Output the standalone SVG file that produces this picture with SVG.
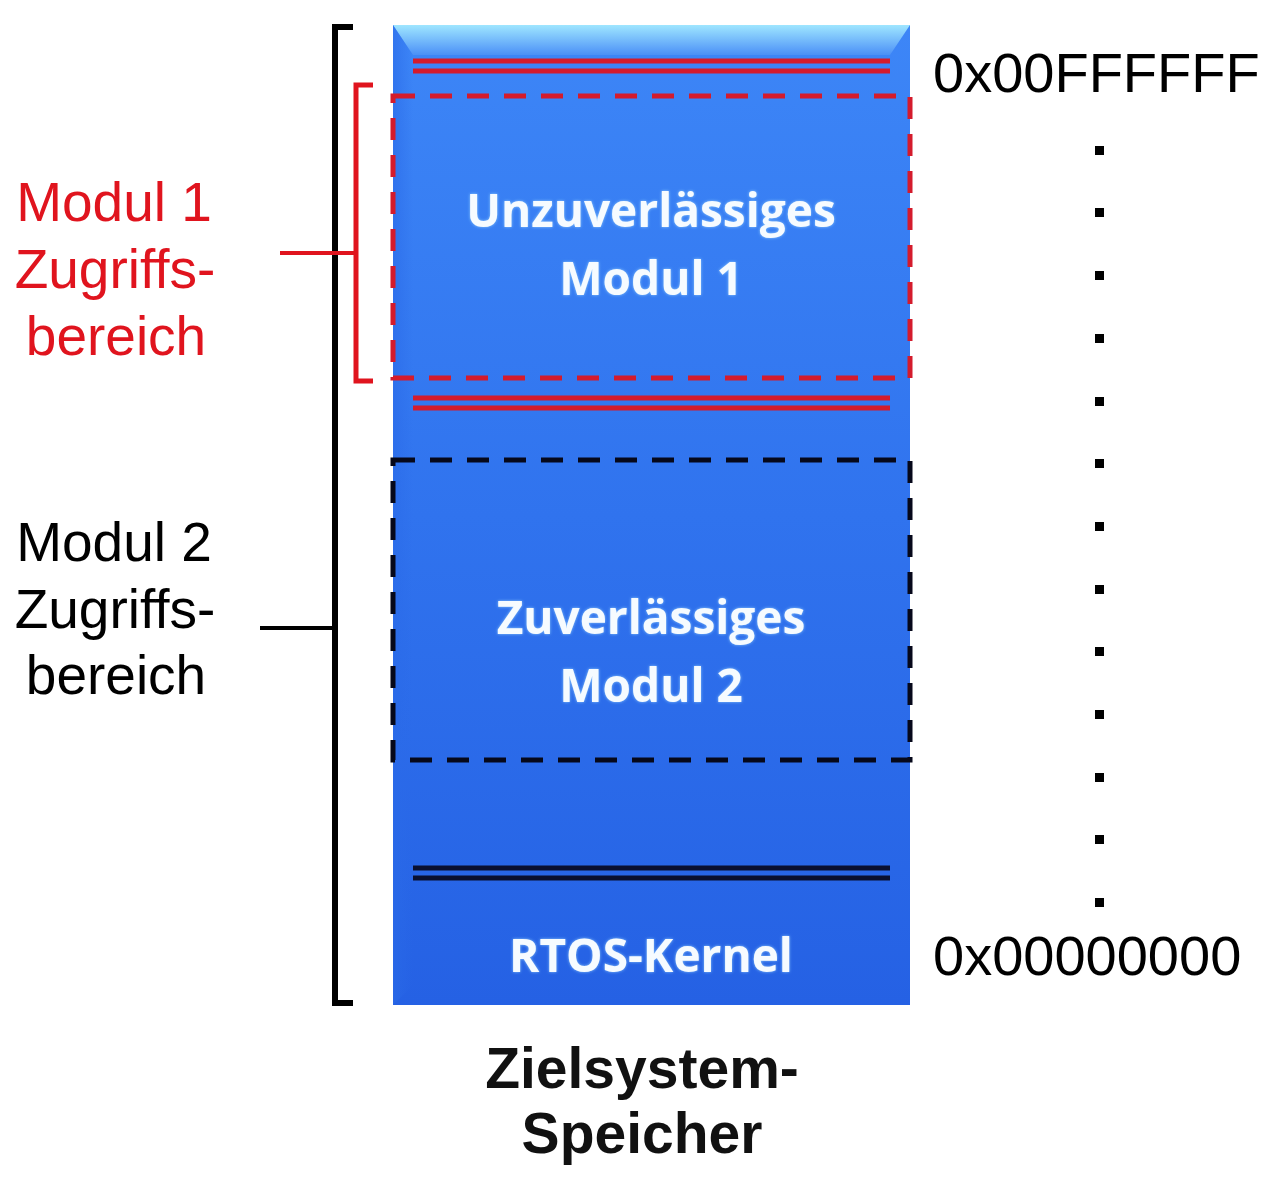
<svg xmlns="http://www.w3.org/2000/svg" width="1280" height="1190" viewBox="0 0 1280 1190">
<defs>
<linearGradient id="body" x1="0" y1="0" x2="0" y2="1">
<stop offset="0" stop-color="#3d86f7"/>
<stop offset="0.5" stop-color="#3073ee"/>
<stop offset="1" stop-color="#2561e4"/>
</linearGradient>
<linearGradient id="bevel" x1="0" y1="0" x2="0" y2="1">
<stop offset="0" stop-color="#9fe6ff"/>
<stop offset="1" stop-color="#4b90f7"/>
</linearGradient>
<linearGradient id="side" x1="0" y1="0" x2="1" y2="0">
<stop offset="0" stop-color="#2a6ae8" stop-opacity="0.6"/>
<stop offset="1" stop-color="#2a6ae8" stop-opacity="0"/>
</linearGradient>
<filter id="glow" x="-10%" y="-30%" width="120%" height="160%">
<feGaussianBlur in="SourceAlpha" stdDeviation="1.5" result="b"/>
<feFlood flood-color="#9fdcff" flood-opacity="0.8"/>
<feComposite in2="b" operator="in" result="g"/>
<feMerge><feMergeNode in="g"/><feMergeNode in="SourceGraphic"/></feMerge>
</filter>
</defs>
<style>
.in{font-family:"Open Sans","Lato",sans-serif;font-weight:bold;font-size:46px;fill:#f6fbff;text-anchor:middle}
.lbl{font-family:"Liberation Sans",Arial,sans-serif;font-size:55px;text-anchor:middle}
.addr{font-family:"Liberation Sans",Arial,sans-serif;font-size:56px;fill:#000}
.cap{font-family:"Liberation Sans",Arial,sans-serif;font-weight:bold;font-size:57px;fill:#111;text-anchor:middle}
.rl{stroke:#d41b2c;stroke-width:5;fill:none}
.bl{stroke:#0a1030;stroke-width:5;fill:none}
.rdash{stroke:#d41b2c;stroke-width:5;fill:none;stroke-dasharray:22 15}
.bdash{stroke:#06081a;stroke-width:5;fill:none;stroke-dasharray:22 15}
.dot{fill:#000}
</style>
<g id="memory">
<rect x="393" y="25" width="517" height="980" fill="url(#body)"/>
<polygon points="393,25 910,25 890,55 413,55" fill="url(#bevel)"/>
<polygon points="393,25 413,55 413,985 393,1005" fill="url(#side)"/>
</g>
<g id="module1-lines">
<line class="rl" x1="413" y1="61" x2="890" y2="61"/>
<line class="rl" x1="413" y1="71" x2="890" y2="71"/>
<line class="rl" x1="413" y1="398" x2="890" y2="398"/>
<line class="rl" x1="413" y1="408" x2="890" y2="408"/>
</g>
<g id="module1">
<rect class="rdash" x="393" y="96" width="517" height="282"/>
<text class="in" x="651" y="227" filter="url(#glow)">Unzuverlässiges</text>
<text class="in" x="651" y="295" filter="url(#glow)">Modul 1</text>
</g>
<g id="module2">
<rect class="bdash" x="393" y="460" width="517" height="300"/>
<text class="in" x="651" y="634" filter="url(#glow)">Zuverlässiges</text>
<text class="in" x="651" y="702" filter="url(#glow)">Modul 2</text>
</g>
<g id="kernel">
<line class="bl" x1="413" y1="868" x2="890" y2="868"/>
<line class="bl" x1="413" y1="878" x2="890" y2="878"/>
<text class="in" x="651" y="972" filter="url(#glow)">RTOS-Kernel</text>
</g>
<g id="connectors">
<polyline points="353,27 335,27 335,1003 353,1003" fill="none" stroke="#000" stroke-width="6"/>
<line x1="260" y1="628" x2="335" y2="628" stroke="#000" stroke-width="4"/>
<polyline points="373,85 356,85 356,381 373,381" fill="none" stroke="#e0141e" stroke-width="5"/>
<line x1="280" y1="253" x2="356" y2="253" stroke="#e0141e" stroke-width="4"/>
</g>
<g id="label-modul1">
<text class="lbl" fill="#e0141e" x="114" y="221">Modul 1</text>
<text class="lbl" fill="#e0141e" x="115" y="288">Zugriffs-</text>
<text class="lbl" fill="#e0141e" x="116" y="355">bereich</text>
</g>
<g id="label-modul2">
<text class="lbl" fill="#000" x="114" y="561">Modul 2</text>
<text class="lbl" fill="#000" x="115" y="628">Zugriffs-</text>
<text class="lbl" fill="#000" x="116" y="694">bereich</text>
</g>
<g id="addresses">
<text class="addr" x="933" y="92">0x00FFFFFF</text>
<text class="addr" x="933" y="975">0x00000000</text>
<rect class="dot" x="1095" y="146" width="9" height="9"/>
<rect class="dot" x="1095" y="208" width="9" height="9"/>
<rect class="dot" x="1095" y="271" width="9" height="9"/>
<rect class="dot" x="1095" y="334" width="9" height="9"/>
<rect class="dot" x="1095" y="397" width="9" height="9"/>
<rect class="dot" x="1095" y="459" width="9" height="9"/>
<rect class="dot" x="1095" y="522" width="9" height="9"/>
<rect class="dot" x="1095" y="585" width="9" height="9"/>
<rect class="dot" x="1095" y="647" width="9" height="9"/>
<rect class="dot" x="1095" y="710" width="9" height="9"/>
<rect class="dot" x="1095" y="773" width="9" height="9"/>
<rect class="dot" x="1095" y="835" width="9" height="9"/>
<rect class="dot" x="1095" y="898" width="9" height="9"/>
</g>
<g id="caption">
<text class="cap" x="642" y="1088">Zielsystem-</text>
<text class="cap" x="642" y="1153">Speicher</text>
</g>
</svg>
